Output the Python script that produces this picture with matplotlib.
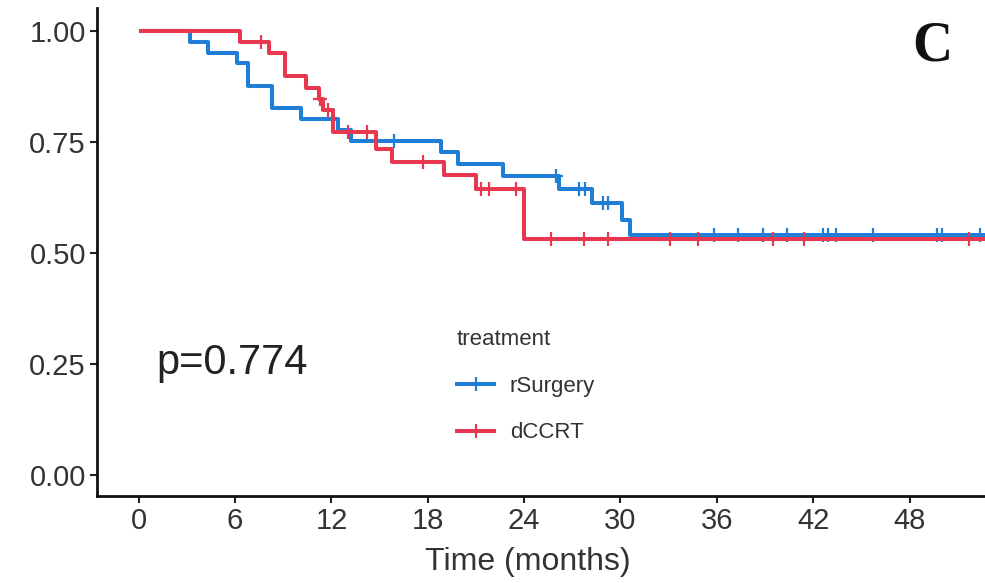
import matplotlib
matplotlib.use("Agg")
import matplotlib.pyplot as plt
from matplotlib.lines import Line2D

# Kaplan-Meier step curves: event times (months) and survival after each step
surg_times = [0, 3.2, 4.3, 6.1, 6.8, 8.3, 10.1, 12.4, 13.2, 18.8, 19.9, 22.7, 26.2, 28.2, 30.1, 30.6]
surg_surv = [1.0, 0.975, 0.951, 0.927, 0.876, 0.827, 0.802, 0.776, 0.752, 0.727, 0.701, 0.673, 0.645, 0.613, 0.575, 0.540]
surg_cens_t = [15.9, 26.0, 27.4, 27.8, 28.9, 29.2, 35.8, 37.3, 38.9, 40.4, 42.6, 42.9, 43.4, 45.7, 49.7, 50.0, 52.4]

ccrt_times = [0, 6.3, 8.1, 9.1, 10.4, 11.2, 11.5, 12.1, 14.8, 15.8, 19.0, 21.0, 24.0]
ccrt_surv = [1.0, 0.975, 0.950, 0.898, 0.872, 0.847, 0.823, 0.773, 0.735, 0.705, 0.675, 0.643, 0.532]
ccrt_cens_t = [7.6, 11.3, 11.8, 13.0, 14.2, 17.7, 21.3, 21.8, 23.5, 25.7, 27.7, 29.2, 33.1, 34.8, 39.5, 41.4, 51.7]

end_time = 53.5
x_ticks = [0, 6, 12, 18, 24, 30, 36, 42, 48]
y_ticks = [0.00, 0.25, 0.50, 0.75, 1.00]
groups = ["rSurgery", "dCCRT"]
colors = ["#1F7FD6", "#E8384F"]
p_text = "p=0.774"
panel_letter = "C"


def surv_at(times, surv, t):
    s = surv[0]
    for ti, si in zip(times, surv):
        if ti <= t:
            s = si
    return s


plt.rcParams["font.family"] = ["Liberation Sans", "DejaVu Sans"]
fig = plt.figure(figsize=(9.85, 5.83), dpi=100)
ax = fig.add_axes([97 / 985, 87 / 583, 1 - 97 / 985, 488 / 583])

series = [(surg_times, surg_surv, surg_cens_t), (ccrt_times, ccrt_surv, ccrt_cens_t)]
for (times, surv, cens), col in zip(series, colors):
    xs = list(times) + [end_time]
    ys = list(surv) + [surv[-1]]
    ax.step(xs, ys, where="post", color=col, lw=2.9, solid_capstyle="butt")
    cy = [surv_at(times, surv, t) for t in cens]
    ax.plot(cens, cy, ls="none", marker="+", ms=10, mew=1.6, color=col)

ax.set_xlim(-2.6, 52.7)
ax.set_ylim(-0.048, 1.052)
ax.set_xticks(x_ticks)
ax.set_yticks(y_ticks)
ax.set_yticklabels([f"{v:.2f}" for v in y_ticks])
ax.tick_params(axis="both", labelsize=21, colors="#222222", length=5, width=1.5, pad=3)
ax.tick_params(axis="x", labelcolor="#333333")
ax.tick_params(axis="y", labelcolor="#333333")
for side in ["top", "right"]:
    ax.spines[side].set_visible(False)
for side in ["left", "bottom"]:
    ax.spines[side].set_linewidth(2.0)
    ax.spines[side].set_color("#111111")

ax.set_xlabel("Time (months)", fontsize=23, color="#333333")
ax.xaxis.set_label_coords(0.485, -0.105)

ax.text(1.1, 0.252, p_text, fontsize=30, color="#222222", va="center", ha="left")
ax.text(49.4, 0.965, panel_letter, fontsize=40, fontweight="bold",
        family=["Liberation Serif", "DejaVu Serif"], color="#111111", va="center", ha="center")

handles = [Line2D([0], [0], color=c, lw=2.9, marker="+", ms=10, mew=1.6) for c in colors]
leg = ax.legend(handles, groups, title="treatment", loc="upper left",
                bbox_to_anchor=(0.395, 0.36), frameon=False, fontsize=16,
                title_fontsize=16, handlelength=1.7, handletextpad=0.7,
                labelspacing=1.15, alignment="left", borderaxespad=0)
for t in leg.get_texts():
    t.set_color("#333333")
leg.get_title().set_color("#333333")

fig.savefig("out.png", dpi=100, facecolor="white")
